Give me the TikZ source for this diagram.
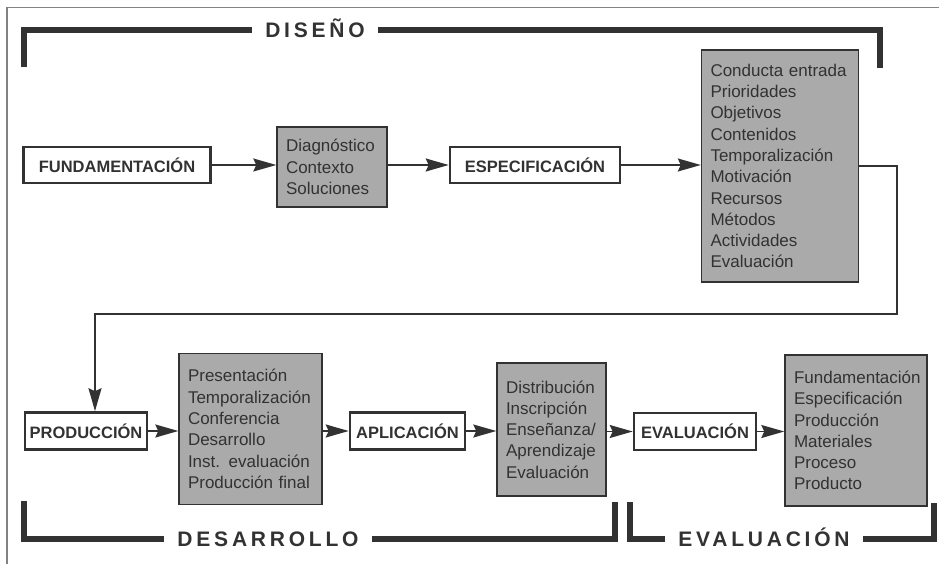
\documentclass[tikz,border=0pt]{standalone}
\usepackage{fontspec}
\setmainfont{Liberation Sans}
\usetikzlibrary{arrows.meta}

\definecolor{ink}{RGB}{50,50,50}
\definecolor{boxgray}{RGB}{170,170,170}
\definecolor{framegray}{RGB}{130,130,130}

\tikzstyle{stage} = [draw=ink, fill=white, line width=2.6pt, rectangle,
  text=ink, font=\fontsize{16.5}{20}\selectfont\bfseries, inner sep=0pt]
\tikzstyle{itemlist} = [draw=ink, fill=boxgray, line width=1.4pt, rectangle,
  text=ink, align=left, font=\fontsize{17}{21.3}\selectfont,
  inner xsep=9pt, inner ysep=0pt]
\tikzstyle{flow} = [draw=ink, line width=1.8pt,
  -{Stealth[length=23pt,width=13pt,inset=3pt]}]
\tikzstyle{phase} = [draw=ink, line width=6pt, line cap=butt, line join=miter]
\tikzstyle{phaselabel} = [text=ink, inner xsep=13pt, inner ysep=0pt,
  text height=15pt, text depth=0pt,
  font=\fontsize{21}{22}\selectfont\bfseries\addfontfeature{LetterSpace=18}]

\begin{document}
\begin{tikzpicture}[x=1pt, y=-1pt]
        \useasboundingbox (0,0) rectangle (939,564);
        \draw[framegray, line width=1.3pt] (7,564) -- (7,7.5) -- (939,7.5);

        % diseño
        \node [stage]    (fund)     at (117,165)   [minimum width=187pt, minimum height=36pt] {FUNDAMENTACIÓN};
        \node [itemlist] (diag)     at (332,167)   [text width=92pt, minimum height=80pt]
              {Diagnóstico\\Contexto\\Soluciones};
        \node [stage]    (espec)    at (535,165)   [minimum width=170pt, minimum height=36pt] {ESPECIFICACIÓN};
        \node [itemlist] (detalle)  at (780,166)   [text width=139pt, minimum height=232pt]
              {Conducta entrada\\Prioridades\\Objetivos\\Contenidos\\Temporalización\\Motivación\\Recursos\\Métodos\\Actividades\\Evaluación};

        % desarrollo y evaluación
        \node [stage]    (prod)     at (86,431)    [minimum width=122pt, minimum height=37pt] {PRODUCCIÓN};
        \node [itemlist] (prodlist) at (250.5,429) [text width=125pt, minimum height=151pt]
              {Presentación\\Temporalización\\Conferencia\\Desarrollo\\Inst. evaluación\\Producción final};
        \node [stage]    (aplic)    at (407.5,431) [minimum width=115pt, minimum height=37pt] {APLICACIÓN};
        \node [itemlist] (aplilist) at (551.5,429.5) [text width=91pt, minimum height=133pt]
              {Distribución\\Inscripción\\Enseñanza/\\Aprendizaje\\Evaluación};
        \node [stage]    (eval)     at (695,431.5) [minimum width=122pt, minimum height=37pt] {EVALUACIÓN};
        \node [itemlist] (evallist) at (856,430.5) [text width=124pt, minimum height=151pt]
              {Fundamentación\\Especificación\\Producción\\Materiales\\Proceso\\Producto};

        % fases
        \node [phaselabel] (fdiseno)     at (315,30.5)  {DISEÑO};
        \node [phaselabel] (fdesarrollo) at (268,538.5) {DESARROLLO};
        \node [phaselabel] (fevaluacion) at (764,538.5) {EVALUACIÓN};
        \draw[phase] (23.5,67) |- (fdiseno.west);
        \draw[phase] (fdiseno.east) -| (879.5,68);
        \draw[phase] (23.5,501) |- (fdesarrollo.west);
        \draw[phase] (fdesarrollo.east) -| (615,502);
        \draw[phase] (629.5,502) |- (fevaluacion.west);
        \draw[phase] (fevaluacion.east) -| (934,503);

        \draw[flow] (fund.east) -- (fund.east -| diag.west);
        \draw[flow] (diag.east |- espec.west) -- (espec.west);
        \draw[flow] (espec.east) -- (espec.east -| detalle.west);

        \coordinate (corner) at (897,314);
        \coordinate (bend)   at (95,314);
        \draw[flow] (detalle.east) -| (corner) -- (bend) -- (bend |- prod.north);

        \draw[flow] (prod.east) -- (prod.east -| prodlist.west);
        \draw[flow] (prodlist.east |- aplic.west) -- (aplic.west);
        \draw[flow] (aplic.east) -- (aplic.east -| aplilist.west);
        \draw[flow] (aplilist.east |- eval.west) -- (eval.west);
        \draw[flow] (eval.east) -- (eval.east -| evallist.west);
      \end{tikzpicture}
\end{document}
